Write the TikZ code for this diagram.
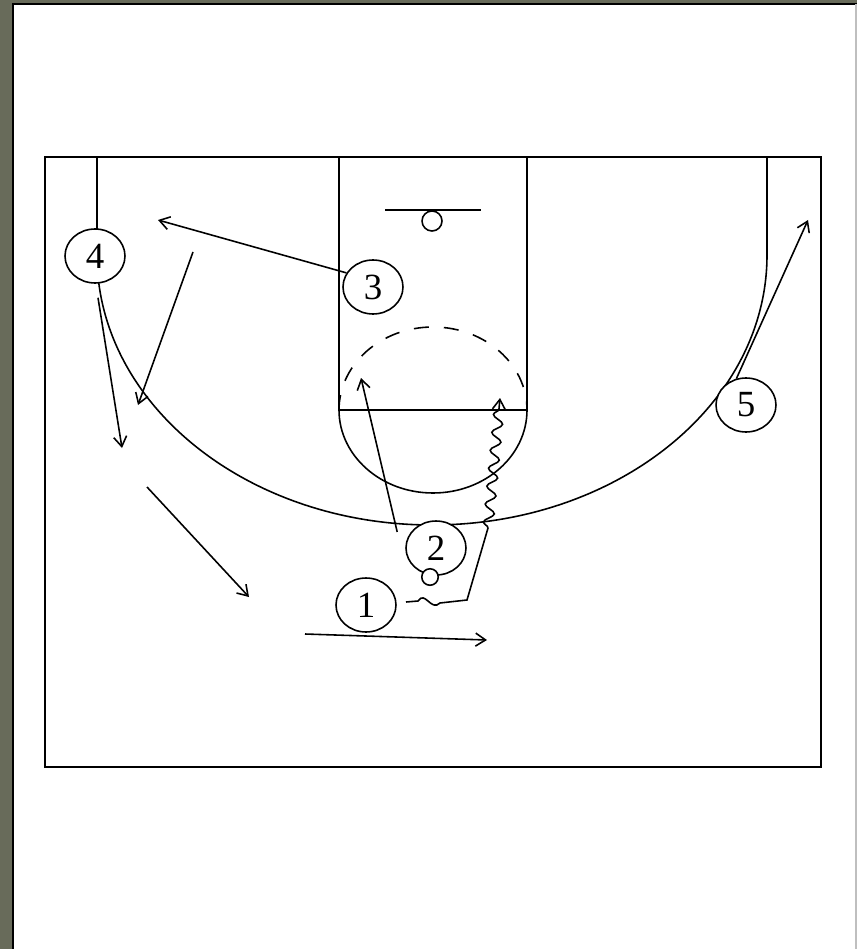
\documentclass[tikz,border=0pt]{standalone}
\usepackage{fontspec}
\setmainfont{Liberation Serif}
\usetikzlibrary{arrows.meta,shapes.geometric,decorations.pathmorphing}
\definecolor{framegray}{RGB}{104,107,90}

\begin{document}
\begin{tikzpicture}[x=0.02cm, y=-0.02cm, line width=0.9pt,
  player/.style={ellipse, draw, fill=white, minimum width=1.2cm, minimum height=1.08cm,
    inner sep=0pt, font=\fontsize{21}{24}\selectfont},
  cut/.style={-{Straight Barb[length=2mm,width=2.6mm]}},
  dribble/.style={decorate, decoration={snake, amplitude=1mm, segment length=3.6mm, post length=2mm}}]
  \useasboundingbox (0,0) rectangle (857,949);

  % Frame
  \fill[white] (0,0) rectangle (857,949);
  \fill[framegray] (0,0) rectangle (12,949);
  \fill[framegray] (0,0) rectangle (857,3);
  \draw[line width=1.2pt] (13,949) -- (13,4) -- (857,4);
  \draw[gray!50, line width=1pt] (856,4) -- (856,949);

  % Court
  \draw[line width=1.2pt] (45,157) rectangle (821,767);

  % Lane and free throw circle
  \draw (339,157) -- (339,410) -- (527,410) -- (527,157);
  \draw (339,410) arc[start angle=180, end angle=0, x radius=94, y radius=83];
  \draw[dash pattern=on 3mm off 3mm] (339,410) arc[start angle=180, end angle=360, x radius=94, y radius=83];

  % Basket
  \draw (385,210) -- (481,210);
  \draw (432,221) circle[radius=10];

  % Three point line
  \draw (97,157) -- (97,255) arc[start angle=180, end angle=0, x radius=335, y radius=270] -- (767,157);

  % Players
  \node[player] (p4) at (95,256) {4};
  \node[player] (p3) at (373,287) {3};
  \node[player] (p5) at (746,405) {5};
  \node[player] (p2) at (436,548) {2};
  \node[player] (p1) at (366,605) {1};
  \node[circle, draw, fill=white, minimum size=0.33cm, inner sep=0pt] (ball) at (430,577) {};

  % Free ends
  \coordinate (a3) at (158,220);
  \coordinate (a4) at (122,448);
  \coordinate (s4) at (193,252);
  \coordinate (t4) at (138,405);
  \coordinate (s6) at (147,487);
  \coordinate (t6) at (249,597);
  \coordinate (s1) at (305,634);
  \coordinate (t1) at (487,640);
  \coordinate (a2) at (361,378);
  \coordinate (a5) at (808,220);
  \coordinate (d0) at (406,602);
  \coordinate (d1) at (467,600);
  \coordinate (d2) at (488,528);
  \coordinate (d3) at (500,398);

  % Cuts
  \draw[cut] (p3.152) -- (a3);
  \draw[cut] (p4.south) ++(3,14) -- (a4);
  \draw[cut] (s4) -- (t4);
  \draw[cut] (s6) -- (t6);
  \draw[cut] (s1) -- (t1);
  \draw[cut] (p2.west) ++(-8,-16) -- (a2);
  \draw[cut] (p5.110) -- (a5);

  % Dribble
  \draw (d0) -- (418,601) .. controls (425,590) and (431,612) .. (440,603) -- (d1) -- (d2);
  \draw[dribble, cut] (d2) -- (d3);
\end{tikzpicture}
\end{document}
